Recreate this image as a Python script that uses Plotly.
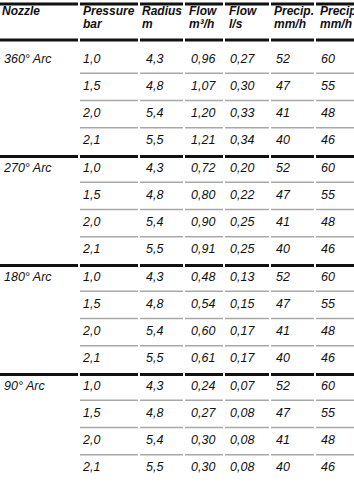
"""
Nozzle performance table rebuilt with Plotly: text traces plus cell rules.
"""

import plotly.graph_objects as go

# ── Data ──────────────────────────────────────────────────────────────────────

HEADER_TOP = ["Nozzle", "Pressure", "Radius", "Flow", "Flow", "Precip.", "Precip."]
HEADER_UNIT = ["", "bar", "m", "m³/h", "l/s", "mm/h", "mm/h"]

NOZZLES   = ["360° Arc", "270° Arc", "180° Arc", "90° Arc"]
PRESSURE  = [1.0, 1.5, 2.0, 2.1]
RADIUS    = [4.3, 4.8, 5.4, 5.5]
FLOW_M3H  = [
    [0.96, 1.07, 1.20, 1.21],
    [0.72, 0.80, 0.90, 0.91],
    [0.48, 0.54, 0.60, 0.61],
    [0.24, 0.27, 0.30, 0.30],
]
FLOW_LS   = [
    [0.27, 0.30, 0.33, 0.34],
    [0.20, 0.22, 0.25, 0.25],
    [0.13, 0.15, 0.17, 0.17],
    [0.07, 0.08, 0.08, 0.08],
]
PRECIP_SQ  = [52, 47, 41, 40]
PRECIP_TRI = [60, 55, 48, 46]

# ── Layout (pixel-ish units on both axes) ────────────────────────────────────

W, H = 354, 485
COL_LEFT  = [0, 80, 140, 185, 225, 271, 316]
COL_RIGHT = [78, 138, 183, 223, 269, 314, 360]
HEAD_PAD  = [2, 3, 2, 4, 4, 3, 4]
BODY_PAD  = [4, 3, 6, 6, 5, 5, 5]
ROW0_Y    = 59.5
ROW_PITCH = 27.25
HEAD_Y1, HEAD_Y2 = 12, 25
TOP_RULE, HEAD_RULE = 4, 40

FONT = "'Liberation Sans', Arial, sans-serif"
INK = "#111111"
GRAY_RULE = "#a8a8a8"


def fmt(v, nd):
    return f"{v:.{nd}f}".replace(".", ",")


# Build the body rows
cells = [[] for _ in COL_LEFT]
row_y = []
for g, name in enumerate(NOZZLES):
    for r in range(len(PRESSURE)):
        i = g * len(PRESSURE) + r
        row_y.append(ROW0_Y + ROW_PITCH * i)
        cells[0].append(name if r == 0 else "")
        cells[1].append(fmt(PRESSURE[r], 1))
        cells[2].append(fmt(RADIUS[r], 1))
        cells[3].append(fmt(FLOW_M3H[g][r], 2))
        cells[4].append(fmt(FLOW_LS[g][r], 2))
        cells[5].append(str(PRECIP_SQ[r]))
        cells[6].append(str(PRECIP_TRI[r]))

fig = go.Figure()

# header text
for c, x in enumerate(COL_LEFT):
    fig.add_trace(go.Scatter(
        x=[x + HEAD_PAD[c], x + HEAD_PAD[c]],
        y=[HEAD_Y1, HEAD_Y2],
        text=[f"<b>{HEADER_TOP[c]}</b>", f"<b>{HEADER_UNIT[c]}</b>"],
        mode="text",
        textposition="middle right",
        textfont=dict(family=FONT, size=12, color=INK, style="italic"),
        hoverinfo="skip",
        showlegend=False,
    ))

# body text
for c, x in enumerate(COL_LEFT):
    fig.add_trace(go.Scatter(
        x=[x + BODY_PAD[c]] * len(row_y),
        y=row_y,
        text=cells[c],
        mode="text",
        textposition="middle right",
        textfont=dict(family=FONT, size=12.5, color=INK, style="italic"),
        hoverinfo="skip",
        showlegend=False,
    ))

# rules
shapes = []


def rule(y, cols, color, width):
    for c in cols:
        shapes.append(dict(
            type="line", xref="x", yref="y",
            x0=COL_LEFT[c], x1=COL_RIGHT[c], y0=y, y1=y,
            line=dict(color=color, width=width),
        ))


all_cols = range(len(COL_LEFT))
rule(TOP_RULE, all_cols, INK, 3)
rule(HEAD_RULE, all_cols, INK, 3)
n_sub = len(PRESSURE)
for g in range(len(NOZZLES)):
    for r in range(n_sub - 1):
        i = g * n_sub + r
        rule(row_y[i] + ROW_PITCH / 2, range(1, len(COL_LEFT)), GRAY_RULE, 1.5)
    if g < len(NOZZLES) - 1:
        i = g * n_sub + n_sub - 1
        rule(row_y[i] + ROW_PITCH / 2 + 1.5, all_cols, INK, 3)

fig.update_layout(
    width=W, height=H,
    margin=dict(l=0, r=0, t=0, b=0),
    paper_bgcolor="white",
    plot_bgcolor="white",
    shapes=shapes,
    hovermode=False,
    xaxis=dict(range=[0, W], visible=False, fixedrange=True),
    yaxis=dict(range=[H, 0], visible=False, fixedrange=True),
)

# the default page keeps an 8px body margin; drop it so the table sits at 0,0
fig.write_html(
    "out.html",
    config={"displayModeBar": False, "staticPlot": True},
    post_script="document.body.style.margin='0';",
)
